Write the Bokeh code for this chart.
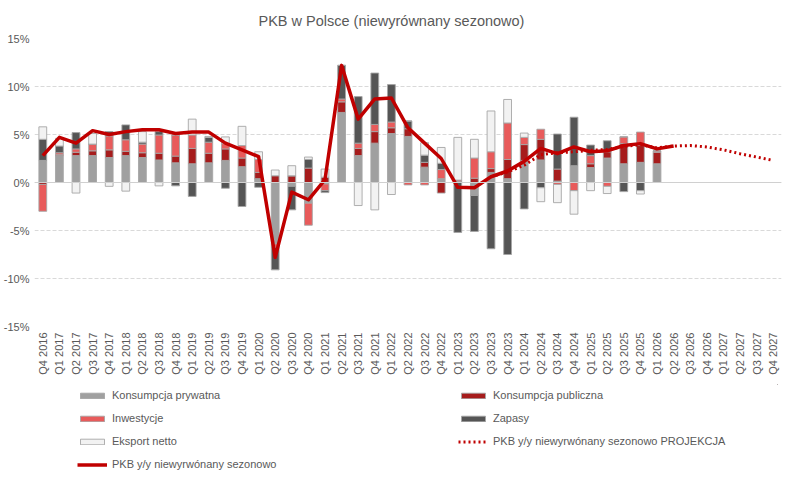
from bokeh.plotting import figure
from bokeh.layouts import column
from bokeh.models import (ColumnDataSource, FactorRange, Range1d, Legend, LegendItem,
                          Span, PrintfTickFormatter, FixedTicker)
from bokeh.embed import file_html
from bokeh.resources import INLINE

quarters = []
for y in range(2016, 2028):
    for q in range(1, 5):
        if (y == 2016 and q < 4):
            continue
        quarters.append(f"Q{q} {y}")

# Contributions to GDP growth (pp), Q4 2016 .. Q1 2026
bar_quarters = quarters[:38]
konsumpcja_prywatna = [2.3, 2.8, 2.8, 2.8, 2.6, 2.8, 2.6, 2.35, 2.05, 1.95, 2.05, 2.3, 1.65,
                       0.4, -6.4, -0.4, -2.15, -0.15, 7.3, 2.8, 4.1, 5.1, 4.8, 1.6, 0.4,
                       0.1, -1.35, 1.05, 0.4, 2.3, 2.35, 0.15, 1.75, 1.55, 2.55, 1.95, 2.1, 1.95]
konsumpcja_publiczna = [-0.2, 0.1, 0.35, 0.5, 0.8, 0.45, 0.5, 0.7, 0.7, 1.6, 1.0, 1.2, 0.9,
                        0.65, 0.7, 0.7, 1.5, 0.55, 1.1, 0.75, 1.2, 0.6, 0.8, 0.5, -1.1,
                        0.0, 0.45, 0.4, 2.0, 1.65, 2.15, 1.25, 0.0, 0.4, 0.65, 2.1, 1.75, 1.2]
inwestycje = [-2.8, 0.2, 0.35, 0.7, 1.45, 1.2, 0.9, 1.9, 2.2, 1.4, 1.15, 0.55, 1.3,
              1.35, -0.35, 0.0, -2.3, -0.7, 0.3, 0.55, 0.75, 0.6, -0.25, -0.25, 0.95,
              0.15, 2.1, 1.75, 3.8, 0.75, 1.05, -0.2, -0.85, 0.85, -0.4, 0.7, 1.4, 0.15]
zapasy = [2.2, 0.7, 1.7, 0.0, 0.45, 1.55, 0.2, 0.35, -0.35, -1.45, 0.5, -0.6, -2.5,
          -0.5, -2.35, -2.45, 0.9, -0.2, 3.5, 4.85, 5.35, 3.9, 0.8, 0.75, 0.65,
          -5.2, -3.75, -6.9, -7.5, -2.75, -0.55, 3.65, 5.05, 1.1, 1.15, -0.95, -0.85, 0.0]
eksport_netto = [1.3, 0.8, -1.1, 1.1, -0.4, -0.9, 1.1, -0.35, 0.0, 1.65, 0.1, 0.7, 2.0,
                 0.8, 0.6, 1.05, 0.25, 0.85, 0.0, -2.4, -2.85, -1.25, 0.0, 1.3, 1.65,
                 4.45, 1.95, 4.25, 2.45, 0.45, -1.45, -1.9, -2.45, -0.85, -0.75, 0.0, -0.35, 0.0]

# GDP y/y (nsa), Q4 2016 .. Q2 2026
pkb_quarters = quarters[:39]
pkb = [2.8, 4.7, 4.1, 5.4, 5.0, 5.3, 5.5, 5.5, 5.1, 5.25, 5.25, 4.1, 3.4,
       2.7, -7.8, -1.0, -1.8, 0.3, 12.2, 6.6, 8.7, 8.8, 5.7, 4.1, 2.5,
       -0.5, -0.55, 0.6, 1.2, 2.2, 3.55, 3.0, 3.7, 3.2, 3.3, 3.85, 4.05, 3.5, 3.8]

# Projection, Q3 2023 .. Q4 2027
proj_quarters = quarters[27:]
projekcja = [0.6, 1.1, 1.8, 2.9, 3.1, 3.2, 3.35, 3.45, 3.75, 3.95, 3.6, 3.8,
             3.85, 3.7, 3.4, 3.0, 2.65, 2.3]

series = [
    ("Konsumpcja prywatna", konsumpcja_prywatna, "#a0a0a0"),
    ("Konsumpcja publiczna", konsumpcja_publiczna, "#a61c1c"),
    ("Inwestycje", inwestycje, "#e85b5b"),
    ("Zapasy", zapasy, "#555555"),
    ("Eksport netto", eksport_netto, "#f2f2f2"),
]

TXT = "#595959"
FONT = "Liberation Sans"
RED = "#c00000"
EDGE = "#a6a6a6"

p = figure(x_range=FactorRange(*quarters), y_range=Range1d(-15, 15),
           frame_width=747, frame_height=288, output_backend="svg", toolbar_location=None,
           min_border_left=30, min_border_right=2, min_border_top=38, min_border_bottom=58)
p.outline_line_color = None
p.title.text = "PKB w Polsce (niewyrównany sezonowo)"
p.title.align = "left"
p.title.offset = 224
p.title.standoff = 19
p.title.text_font = FONT
p.title.text_font_size = "14.5px"
p.title.text_font_style = "normal"
p.title.text_color = TXT

pos = [0.0] * len(bar_quarters)
neg = [0.0] * len(bar_quarters)
for name, vals, color in series:
    bottoms, tops = [], []
    for i, v in enumerate(vals):
        if v >= 0:
            bottoms.append(pos[i]); tops.append(pos[i] + v); pos[i] += v
        else:
            bottoms.append(neg[i] + v); tops.append(neg[i]); neg[i] += v
    src = ColumnDataSource(dict(x=bar_quarters, bottom=bottoms, top=tops))
    p.vbar(x="x", bottom="bottom", top="top", width=0.47, source=src,
           fill_color=color, line_color=EDGE, line_width=0.9)

zero = Span(location=0, dimension="width", line_color="#d0d0d0", line_width=1)
p.add_layout(zero)

p.line(proj_quarters, projekcja, line_color=RED, line_width=3,
       line_dash="2 3", line_cap="butt")
p.line(pkb_quarters, pkb, line_color=RED, line_width=3.5, line_join="round")

p.yaxis.ticker = FixedTicker(ticks=[-15, -10, -5, 0, 5, 10, 15])
p.yaxis.formatter = PrintfTickFormatter(format="%d%%")
for ax in (p.xaxis[0], p.yaxis[0]):
    ax.axis_line_color = None
    ax.major_tick_line_color = None
    ax.minor_tick_line_color = None
    ax.major_tick_out = 0
    ax.major_tick_in = 0
    ax.minor_tick_out = 0
    ax.minor_tick_in = 0
    ax.major_label_text_font = FONT
    ax.major_label_text_font_size = "11px"
    ax.major_label_text_color = TXT
p.xaxis.major_label_orientation = 1.5707963
p.xaxis.major_label_standoff = 6
p.yaxis.major_label_standoff = 5
p.xgrid.grid_line_color = None
p.ygrid.grid_line_color = "#d9d9d9"
p.ygrid.grid_line_dash = "4 2"

# Legend panel
lg = figure(width=779, height=86, output_backend="svg", toolbar_location=None,
            x_range=Range1d(0, 1), y_range=Range1d(0, 1),
            x_axis_type=None, y_axis_type=None,
            min_border=0, min_border_left=0, min_border_right=0,
            min_border_top=0, min_border_bottom=0)
lg.grid.visible = False
lg.outline_line_color = None
leg_r = {}
for name, vals, color in series:
    leg_r[name] = lg.vbar(x=[5], top=[6], bottom=[5], width=0.5, fill_color=color,
                          line_color=EDGE, line_width=0.9)
leg_proj = lg.line(x=[5, 6], y=[5, 5], line_color=RED, line_width=3, line_dash="2 3",
                   line_cap="butt")
leg_pkb = lg.line(x=[5, 6], y=[5, 5], line_color=RED, line_width=3.5)

items = [
    LegendItem(label="Konsumpcja prywatna", renderers=[leg_r["Konsumpcja prywatna"]]),
    LegendItem(label="Inwestycje", renderers=[leg_r["Inwestycje"]]),
    LegendItem(label="Eksport netto", renderers=[leg_r["Eksport netto"]]),
    LegendItem(label="PKB y/y niewyrwónany sezonowo", renderers=[leg_pkb]),
    LegendItem(label="Konsumpcja publiczna", renderers=[leg_r["Konsumpcja publiczna"]]),
    LegendItem(label="Zapasy", renderers=[leg_r["Zapasy"]]),
    LegendItem(label="PKB y/y niewyrwónany sezonowo PROJEKCJA", renderers=[leg_proj]),
]
legend = Legend(items=items, ncols=2, location=(43, -2),
                margin=0, padding=0, spacing=7, label_height=16, glyph_height=7,
                glyph_width=30, label_standoff=5, label_width=339,
                label_text_font=FONT, label_text_font_size="11px",
                label_text_color=TXT, border_line_color=None,
                background_fill_alpha=0)
lg.add_layout(legend, "center")

layout = column(p, lg, spacing=0)
open("out.html", "w").write(file_html(layout, INLINE))
